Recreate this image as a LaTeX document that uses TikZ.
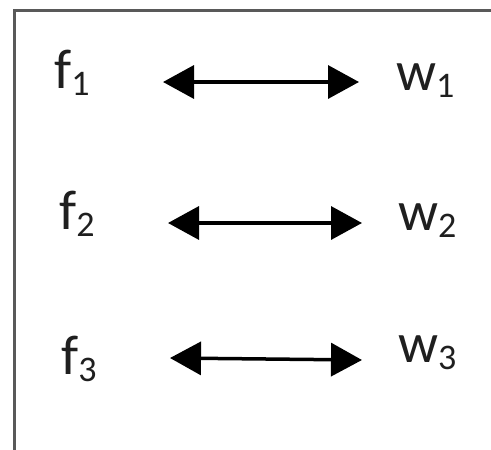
\documentclass[tikz,border=0pt]{standalone}
\usepackage{fontspec}
\setmainfont{Carlito}
\usetikzlibrary{arrows.meta}
\newcommand\lowidx[1]{\raisebox{-7pt}{\fontsize{36}{36}\selectfont #1}}
\tikzset{
  lbl/.style={inner sep=0pt, anchor=base west, text=black!88,
    font=\fontsize{56}{56}\selectfont},
  pair/.style={line width=3.5pt,
    {Triangle[length=31pt,width=33pt]}-{Triangle[length=31pt,width=33pt]}},
  frame/.style={line width=3pt, draw=black!65}
}
\begin{document}
\begin{tikzpicture}[x=1pt,y=-1pt]
  \useasboundingbox (0,0) rectangle (491,450);
  % open frame: top and left edges only
  \draw[frame] (14,452) -- (14,10) -- (493,10);

  % left labels
  \node[lbl] (f1) at (54,88)  {f\lowidx{1}};
  \node[lbl] (f2) at (59,229) {f\lowidx{2}};
  \node[lbl] (f3) at (61,374) {f\lowidx{3}};
  % right labels
  \node[lbl] (w1) at (396,90)  {w\lowidx{1}};
  \node[lbl] (w2) at (398,230) {w\lowidx{2}};
  \node[lbl] (w3) at (398,362) {w\lowidx{3}};

  % arrow end points
  \coordinate (a1l) at (163,82);  \coordinate (a1r) at (359,82);
  \coordinate (a2l) at (168,223); \coordinate (a2r) at (362,223);
  \coordinate (a3l) at (170,358); \coordinate (a3r) at (362,360);

  \draw[pair] (a1l) -- (a1r);
  \draw[pair] (a2l) -- (a2r);
  \draw[pair] (a3l) -- (a3r);
\end{tikzpicture}
\end{document}
